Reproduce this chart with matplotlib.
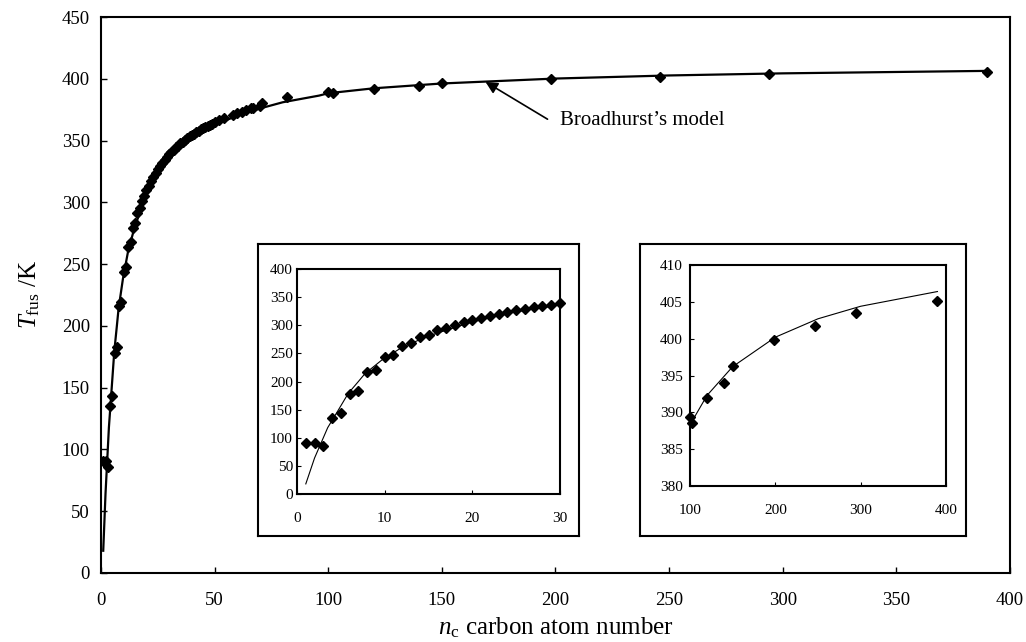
import numpy as np
import matplotlib
matplotlib.use("Agg")
import matplotlib.pyplot as plt
from matplotlib import rcParams

# Serif look like the original (Times-like)
rcParams['font.family'] = ['Liberation Serif', 'DejaVu Serif']
rcParams['mathtext.fontset'] = 'custom'
rcParams['mathtext.rm'] = 'Liberation Serif'
rcParams['mathtext.it'] = 'Liberation Serif:italic'

n_c = [1, 2, 3, 4, 5, 6, 7, 8, 9, 10, 11, 12, 13, 14, 15, 16, 17, 18, 19, 20,
       21, 22, 23, 24, 25, 26, 27, 28, 29, 30, 31, 32, 33, 34, 35, 36, 37, 38,
       39, 40, 41, 42, 43, 44, 45, 46, 47, 48, 49, 50, 52, 54, 58, 60, 62, 64,
       66, 67, 70, 71, 82, 100, 102, 120, 140, 150, 198, 246, 294, 390]
T_fus = [90.7, 90.4, 85.5, 134.8, 143.4, 177.8, 182.6, 216.4, 219.7, 243.5,
         247.6, 263.6, 267.8, 279.0, 283.1, 291.3, 295.1, 301.3, 305.0, 309.6,
         313.4, 317.2, 320.7, 323.8, 326.7, 329.4, 332.0, 334.4, 336.8, 338.9,
         341.1, 342.4, 344.6, 345.9, 347.9, 349.0, 350.8, 352.2, 353.3, 354.6,
         355.6, 357.0, 358.1, 359.3, 360.0, 361.0, 361.8, 362.5, 363.3, 364.9,
         366.5, 368.0, 370.5, 372.0, 373.5, 374.8, 376.0, 376.5, 378.3, 380.0,
         385.5, 389.4, 388.6, 392.0, 394.0, 396.3, 399.8, 401.7, 403.5, 405.1]

# Broadhurst's model curve
model_n = [1, 2, 3, 3.5, 4.7, 5.85, 7, 7.75, 9.66, 12, 15, 20, 25, 30, 40, 50,
           60, 70, 80, 96, 100, 120, 150, 200, 250, 300, 390]
model_T = [18, 64, 100, 118, 149, 179, 200, 214, 238, 261, 281, 306, 324, 336,
           353, 363, 370, 376, 381, 386.4, 388.3, 392.3, 396.2, 400.2, 402.7,
           404.4, 406.4]

n_arr = np.array(n_c)
T_arr = np.array(T_fus)
short = n_arr <= 30
long_ = n_arr >= 100

fig = plt.figure(figsize=(10.26, 6.42), dpi=100)

# ---- main plot ----
ax = fig.add_axes([0.0984, 0.1075, 0.886, 0.866])
ax.plot(model_n, model_T, color='black', lw=1.6, zorder=2)
ax.plot(n_c, T_fus, 'D', color='black', ms=5.5, zorder=3)
ax.set_xlim(0, 400)
ax.set_ylim(0, 450)
ax.set_xticks(range(0, 401, 50))
ax.set_yticks(range(0, 451, 50))
ax.tick_params(direction='in', length=4, width=1, labelsize=13.5)
ax.tick_params(axis='x', pad=14)
ax.tick_params(axis='y', pad=8)
for s in ax.spines.values():
    s.set_linewidth(1.5)
ax.set_xlabel(r'$n_{\mathrm{c}}$ carbon atom number', fontsize=18, labelpad=4)
ax.set_ylabel(r'$T_{\mathrm{fus}}$ /K', fontsize=18, labelpad=14)

ax.annotate("", xy=(169.2, 397.5), xytext=(196.5, 367.3),
            arrowprops=dict(arrowstyle='-|>', color='black', lw=1.2,
                            mutation_scale=18, shrinkA=0, shrinkB=0))
ax.text(202.2, 366, "Broadhurst\u2019s model", fontsize=15, ha='left', va='center')

# ---- outer frames of the insets ----
for rect in ([0.2515, 0.1651, 0.3129, 0.4548], [0.6238, 0.1651, 0.3177, 0.4548]):
    box = fig.add_axes(rect)
    box.set_xticks([])
    box.set_yticks([])
    box.set_facecolor('white')
    for s in box.spines.values():
        s.set_linewidth(1.5)

# ---- inset 1 : small chains ----
ax1 = fig.add_axes([0.2895, 0.2305, 0.2563, 0.3505])
ax1.plot(model_n, model_T, color='black', lw=0.8)
ax1.plot(n_arr[short], T_arr[short], 'D', color='black', ms=5.5, clip_on=False)
ax1.set_xlim(0, 30)
ax1.set_ylim(0, 400)
ax1.set_xticks([0, 10, 20, 30])
ax1.set_yticks(range(0, 401, 50))
ax1.tick_params(direction='in', length=3, labelsize=11)
ax1.tick_params(axis='x', pad=13)
ax1.tick_params(axis='y', pad=3)
for s in ax1.spines.values():
    s.set_linewidth(1.5)

# ---- inset 2 : long chains ----
ax2 = fig.add_axes([0.6725, 0.243, 0.2495, 0.3442])
ax2.plot(model_n, model_T, color='black', lw=0.8)
ax2.plot(n_arr[long_], T_arr[long_], 'D', color='black', ms=5.5, clip_on=False)
ax2.set_xlim(100, 400)
ax2.set_ylim(380, 410)
ax2.set_xticks([100, 200, 300, 400])
ax2.set_yticks(range(380, 411, 5))
ax2.tick_params(direction='in', length=3, labelsize=11)
ax2.tick_params(axis='x', pad=13)
ax2.tick_params(axis='y', pad=5)
for s in ax2.spines.values():
    s.set_linewidth(1.5)

plt.savefig('out.png', dpi=100)
